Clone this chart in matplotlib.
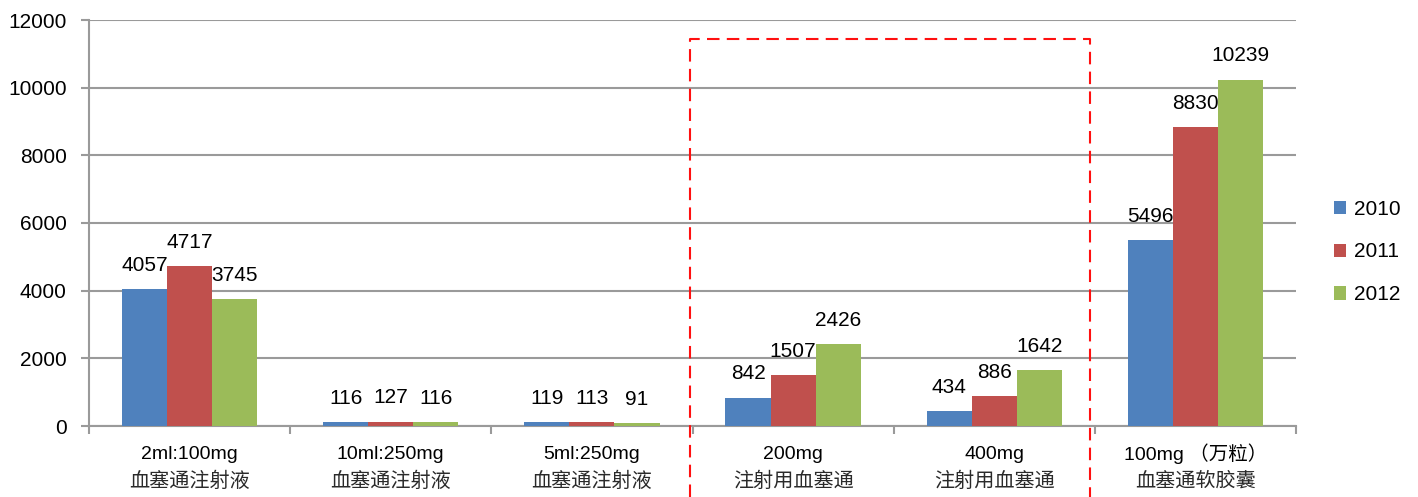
import matplotlib.pyplot as plt
import numpy as np
from matplotlib.lines import Line2D
from matplotlib.patches import Patch

plt.rcParams['font.family'] = ['Liberation Sans', 'Noto Sans CJK SC', 'DejaVu Sans']

# 规格与品名
specs = ['2ml:100mg', '10ml:250mg', '5ml:250mg', '200mg', '400mg', '100mg （万粒）']
names = ['血塞通注射液', '血塞通注射液', '血塞通注射液', '注射用血塞通', '注射用血塞通', '血塞通软胶囊']
years = ['2010', '2011', '2012']

v2010 = [4057, 116, 119, 842, 434, 5496]
v2011 = [4717, 127, 113, 1507, 886, 8830]
v2012 = [3745, 116, 91, 2426, 1642, 10239]

colors = ['#4F81BD', '#C0504D', '#9BBB59']
grid_c = '#9a9a9a'


def main():
    fig = plt.figure(figsize=(14.18, 4.97), dpi=100)
    ax = fig.add_axes([89 / 1418, 1 - 426 / 497, (1296 - 89) / 1418, (426 - 20) / 497])

    x = np.arange(len(specs))
    w = 0.224
    series = [v2010, v2011, v2012]
    for i, (vals, c) in enumerate(zip(series, colors)):
        bars = ax.bar(x + (i - 1) * w, vals, width=w, color=c, zorder=3)
        for b, v in zip(bars, vals):
            ax.text(b.get_x() + b.get_width() / 2, v + 420, str(v),
                    ha='center', va='bottom', fontsize=15, color='black', zorder=4)

    ax.set_xlim(-0.5, len(specs) - 0.5)
    ax.set_ylim(0, 12000)
    ax.set_yticks(range(0, 12001, 2000))
    ax.tick_params(axis='y', labelsize=15, length=6, width=1.5, color=grid_c, pad=10)
    ax.yaxis.grid(True, color=grid_c, linewidth=1.5, zorder=0)

    # 分类刻度放在组与组之间
    ax.set_xticks(np.arange(-0.5, len(specs), 1.0))
    ax.set_xticklabels([])
    ax.tick_params(axis='x', length=6, width=1.5, color=grid_c)

    for s in ['top', 'right']:
        ax.spines[s].set_visible(False)
    for s in ['left', 'bottom']:
        ax.spines[s].set_color(grid_c)
        ax.spines[s].set_linewidth(1.5)

    tr = ax.get_xaxis_transform()
    for xi, s, n in zip(x, specs, names):
        ax.text(xi, -0.069, s, transform=tr, ha='center', va='center',
                fontsize=14, color='black')
        ax.text(xi, -0.136, n, transform=tr, ha='center', va='center',
                fontsize=14.5, color='#2a2a2a', fontweight='light')

    # 红色虚线框
    dash = dict(color='#FF1010', linewidth=1.5, linestyle=(0, (6, 3.5)),
                transform=fig.transFigure, clip_on=False)
    x0, x1 = 690 / 1418, 1090 / 1418
    y0, y1 = 0.0, 1 - 39 / 497
    fig.add_artist(Line2D([x0, x0, x1, x1], [y0, y1, y1, y0], **dash))

    handles = [Patch(facecolor=c) for c in colors]
    fig.legend(handles, years, loc='center left',
               bbox_to_anchor=(1315 / 1418, 1 - 252 / 497), frameon=False,
               fontsize=15, handlelength=0.6, handleheight=0.6,
               handletextpad=0.35, labelspacing=1.15)

    fig.savefig('out.png', dpi=100)


if __name__ == '__main__':
    main()
